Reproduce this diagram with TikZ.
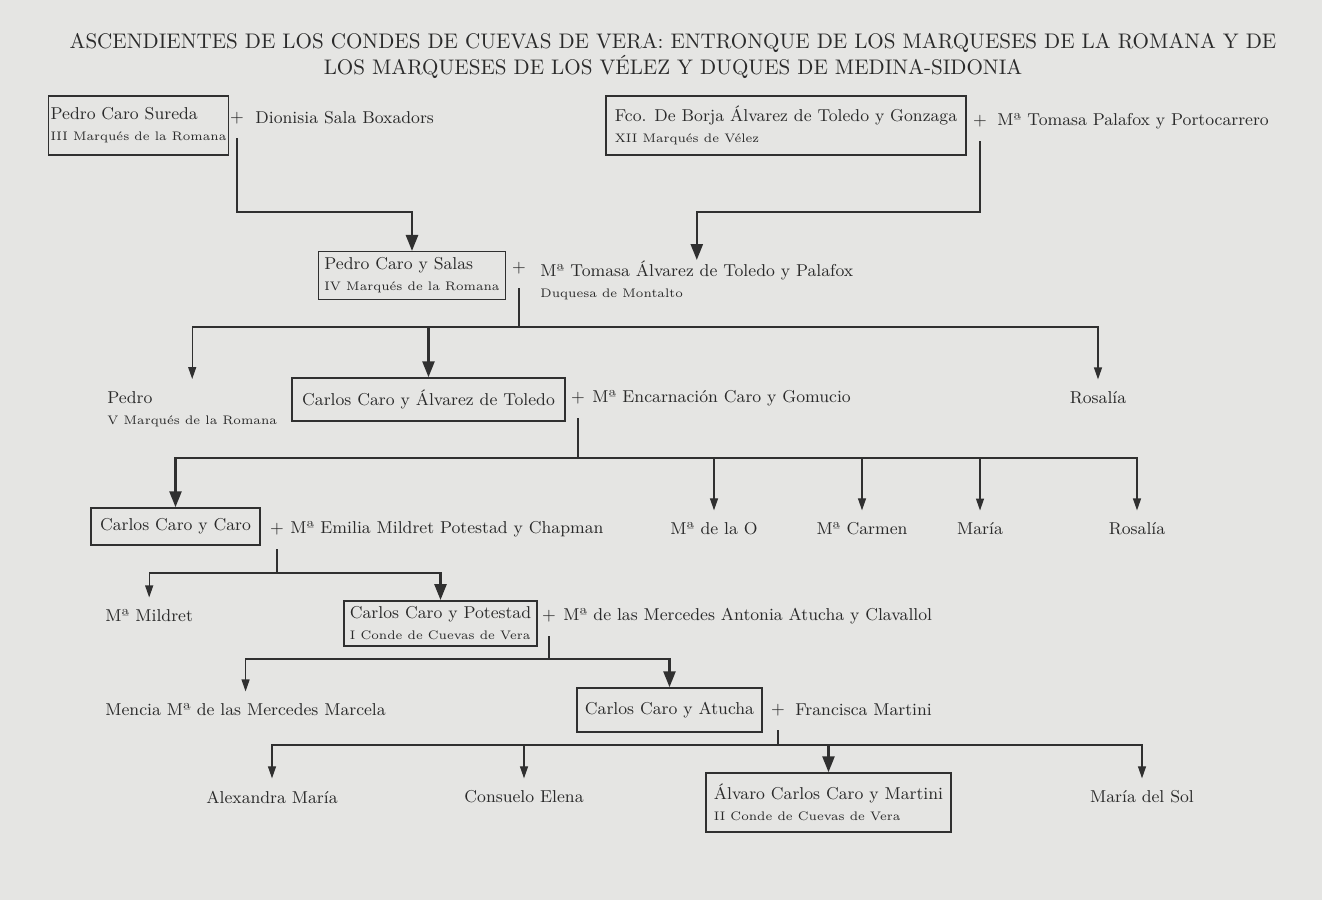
\documentclass[tikz,border=0pt]{standalone}
\usepackage{fontspec}
\usepackage{tikz}
\usetikzlibrary{arrows.meta}
\definecolor{paperGray}{RGB}{229,229,227}
\definecolor{inkGray}{RGB}{42,42,42}
\definecolor{lineGray}{RGB}{48,48,48}
\newcommand{\titleSize}{\fontsize{10.55}{11.5}\selectfont}
\newcommand{\nameSize}{\fontsize{8.6}{10.5}\selectfont}
\newcommand{\subSize}{\fontsize{6.2}{7.5}\selectfont}

\begin{document}
\begin{tikzpicture}[
    x=0.5pt, y=-0.5pt,
    titleTxt/.style={font=\titleSize, text=inkGray, align=center, inner sep=0pt},
    famBox/.style={draw=lineGray, line width=0.75pt, rectangle, inner sep=3pt, font=\nameSize, text=inkGray, align=left},
    nameTxt/.style={font=\nameSize, text=inkGray, inner sep=0pt},
    plusTxt/.style={font=\nameSize, text=inkGray, inner sep=1pt},
    descent/.style={draw=lineGray, line width=1.3pt, shorten <=6pt, -{Triangle[width=6pt,length=8pt]}},
    sibline/.style={draw=lineGray, line width=0.6pt, shorten >=6pt, -{Triangle[width=4pt,length=6pt]}}
]

% Paper
\fill[paperGray] (0,0) rectangle (1322,900);
\useasboundingbox (0,0) rectangle (1322,900);

% Title
\node (title) [titleTxt] at (673,56) {ASCENDIENTES DE LOS CONDES DE CUEVAS DE VERA: ENTRONQUE DE LOS MARQUESES DE LA ROMANA Y DE\\LOS MARQUESES DE LOS VÉLEZ Y DUQUES DE MEDINA-SIDONIA};

% Generation 1
\node (boxA) [famBox, inner xsep=1pt, minimum width=84.5pt, minimum height=29.5pt] at (138.5,125.5) {Pedro Caro Sureda\\{\subSize III Marqués de la Romana}};
\node (plusA) [plusTxt] at (237,118) {+};
\node (dionisia) [nameTxt, anchor=west] at (255,118) {Dionisia Sala Boxadors};

\node (boxB) [famBox, minimum width=180pt, minimum height=29.5pt] at (786,125.5) {Fco. De Borja Álvarez de Toledo y Gonzaga\\{\subSize XII Marqués de Vélez}};
\node (plusB) [plusTxt] at (980,121) {+};
\node (tomasaPP) [nameTxt, anchor=west] at (997,121) {Mª Tomasa Palafox y Portocarrero};

% Generation 2
\node (boxC) [famBox, minimum width=93pt, minimum height=22.5pt] at (412,275.5) {Pedro Caro y Salas\\{\subSize IV Marqués de la Romana}};
\node (plusC) [plusTxt] at (519,268) {+};
\node (tomasaAT) [nameTxt, anchor=north west, align=left] at (540,260) {Mª Tomasa Álvarez de Toledo y Palafox\\{\subSize Duquesa de Montalto}};

% Generation 3
\node (pedroV) [nameTxt, anchor=north west, align=left] at (107,391) {Pedro\\{\subSize V Marqués de la Romana}};
\node (boxD) [famBox, minimum width=136.5pt, minimum height=21.5pt] at (428.5,399.5) {Carlos Caro y Álvarez de Toledo};
\node (plusD) [plusTxt] at (578,398) {+};
\node (encarnacion) [nameTxt, anchor=west] at (592,398) {Mª Encarnación Caro y Gomucio};
\node (rosaliaA) [nameTxt] at (1098,398) {Rosalía};

% Generation 4
\node (boxE) [famBox, minimum width=84.5pt, minimum height=18.5pt] at (175.5,526.5) {Carlos Caro y Caro};
\node (plusE) [plusTxt] at (277,529) {+};
\node (emilia) [nameTxt, anchor=west] at (290,529) {Mª Emilia Mildret Potestad y Chapman};
\node (deLaO) [nameTxt] at (714,529) {Mª de la O};
\node (carmen) [nameTxt] at (862,529) {Mª Carmen};
\node (maria) [nameTxt] at (980,529) {María};
\node (rosaliaB) [nameTxt] at (1137,529) {Rosalía};

% Generation 5
\node (mildret) [nameTxt, anchor=west] at (105,616) {Mª Mildret};
\node (boxF) [famBox, minimum width=92.5pt, minimum height=21.5pt] at (440.5,623.5) {Carlos Caro y Potestad\\{\subSize I Conde de Cuevas de Vera}};
\node (plusF) [plusTxt] at (549,616) {+};
\node (mercedes) [nameTxt, anchor=west] at (563,616) {Mª de las Mercedes Antonia Atucha y Clavallol};

% Generation 6
\node (mencia) [nameTxt, anchor=west] at (105,710) {Mencia Mª de las Mercedes Marcela};
\node (boxG) [famBox, minimum width=92.5pt, minimum height=22pt] at (669.5,710) {Carlos Caro y Atucha};
\node (plusG) [plusTxt] at (778,710) {+};
\node (francisca) [nameTxt, anchor=west] at (795,710) {Francisca Martini};

% Generation 7
\node (alexandra) [nameTxt] at (272,797) {Alexandra María};
\node (consuelo) [nameTxt] at (524,797) {Consuelo Elena};
\node (boxH) [famBox, minimum width=122.5pt, minimum height=29.5pt] at (828.5,802.5) {Álvaro Carlos Caro y Martini\\{\subSize II Conde de Cuevas de Vera}};
\node (mariaSol) [nameTxt] at (1142,797) {María del Sol};

% Junction levels
\coordinate (jA) at (0,212);
\coordinate (jC) at (0,327);
\coordinate (jD) at (0,458);
\coordinate (jE) at (0,573);
\coordinate (jF) at (0,659);
\coordinate (jG) at (0,745);

% Descent lines
\draw[descent] (plusA.south) -- (plusA.south |- jA) -| (boxC.north);
\draw[descent] (plusB.south) -- (plusB.south |- jA) -| (tomasaAT.north);

\draw[sibline] (plusC.south |- jC) -| (pedroV.north);
\draw[sibline] (plusC.south |- jC) -| (rosaliaA.north);
\draw[descent] (plusC.south) -- (plusC.south |- jC) -| (boxD.north);

\draw[sibline] (plusD.south |- jD) -| (deLaO.north);
\draw[sibline] (plusD.south |- jD) -| (carmen.north);
\draw[sibline] (plusD.south |- jD) -| (maria.north);
\draw[sibline] (plusD.south |- jD) -| (rosaliaB.north);
\draw[descent] (plusD.south) -- (plusD.south |- jD) -| (boxE.north);

\draw[sibline] (plusE.south |- jE) -| (mildret.north);
\draw[descent] (plusE.south) -- (plusE.south |- jE) -| (boxF.north);

\draw[sibline] (plusF.south |- jF) -| (mencia.north);
\draw[descent] (plusF.south) -- (plusF.south |- jF) -| (boxG.north);

\draw[sibline] (plusG.south |- jG) -| (alexandra.north);
\draw[sibline] (plusG.south |- jG) -| (consuelo.north);
\draw[sibline] (plusG.south |- jG) -| (mariaSol.north);
\draw[descent] (plusG.south) -- (plusG.south |- jG) -| (boxH.north);

\end{tikzpicture}
\end{document}
